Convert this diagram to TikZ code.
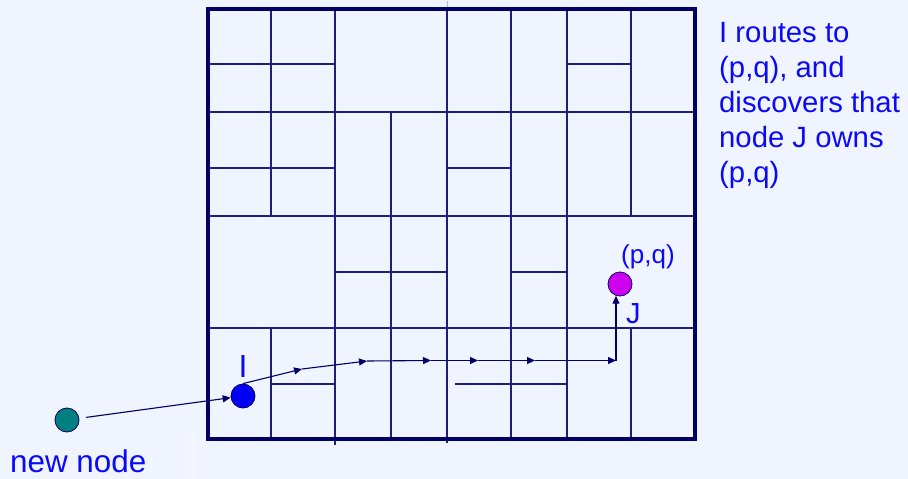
\documentclass[tikz,border=0pt]{standalone}
\usepackage{fontspec}
\setmainfont{Liberation Sans}
\usetikzlibrary{arrows.meta}
\definecolor{bg}{HTML}{F0F4FF}
\definecolor{bgstrip}{HTML}{F3F6FF}
\definecolor{navy}{HTML}{000066}
\definecolor{gridc}{HTML}{1E1E7A}
\definecolor{faint}{HTML}{B8BCD8}
\definecolor{txtblue}{HTML}{0A0AF5}
\definecolor{peerI}{HTML}{0000F5}
\definecolor{peerJ}{HTML}{CC00EE}
\definecolor{peerNew}{HTML}{007F80}
\tikzset{
  gridline/.style={draw=gridc, line width=1.2pt},
  borderline/.style={draw=navy, line width=4pt},
  peer/.style={circle, draw=navy, line width=0.8pt, minimum size=24pt, inner sep=0pt},
  route/.style={draw=navy, line width=1.1pt, -{Triangle[length=8pt,width=7pt]}},
  label/.style={text=txtblue, inner sep=0pt},
}
\begin{document}
\begin{tikzpicture}[x=1pt,y=-1pt]
\fill[bg] (0,0) rectangle (908,479);
\useasboundingbox (0,0) rectangle (908,479);
\fill[bgstrip] (185,433) rectangle (195,479);
% grid: vertical lines
\draw[gridline] (271,8) -- (271,216);
\draw[gridline] (271,328) -- (271,439);
\draw[gridline] (335,8) -- (335,445);
\draw[gridline] (391,112) -- (391,439);
\draw[draw=faint, line width=1pt] (447,1) -- (447,8);
\draw[gridline] (447,8) -- (447,443);
\draw[gridline] (511,8) -- (511,439);
\draw[gridline] (567,8) -- (567,439);
\draw[gridline] (631,8) -- (631,216);
\draw[gridline] (631,328) -- (631,439);
% grid: horizontal lines
\draw[gridline] (207,64) -- (335,64);
\draw[gridline] (567,64) -- (631,64);
\draw[gridline] (207,112) -- (695,112);
\draw[gridline] (207,168) -- (335,168);
\draw[gridline] (447,168) -- (511,168);
\draw[gridline] (207,216) -- (695,216);
\draw[gridline] (335,272) -- (447,272);
\draw[gridline] (511,272) -- (567,272);
\draw[gridline] (207,328) -- (695,328);
\draw[gridline] (271,384) -- (335,384);
\draw[gridline] (455,384) -- (567,384);
% border
\draw[borderline] (208,8.5) rectangle (695,439);
% peers
\node[peer, fill=peerNew] (new) at (67,420) {};
\node[peer, fill=peerI] (I) at (243,396) {};
\node[peer, fill=peerJ] (J) at (620,284) {};
% route waypoints
\coordinate (w1) at (302,369);
\coordinate (w2) at (367,361);
\coordinate (w3) at (431,360.5);
\coordinate (w4) at (478,360.5);
\coordinate (w5) at (535,360.5);
\coordinate (w6) at (616,360.5);
% connectors
\draw[route, shorten <=7pt] (new) -- (I);
\draw[route] (I.north) -- (w1);
\draw[route] (w1) -- (w2);
\draw[route] (w2) -- (w3);
\draw[route] (w3) -- (w4);
\draw[route] (w4) -- (w5);
\draw[route] (w5) -- (w6);
\draw[route] (w6) -- (w6 |- J.250);
% labels
\node[label, anchor=base west, font=\fontsize{31.4}{36}\selectfont] (newlbl) at (10,472) {new node};
\node[label, anchor=base, font=\fontsize{32}{36}\selectfont] (Ilbl) at (243,377) {I};
\node[label, anchor=base west, font=\fontsize{29}{34}\selectfont] (Jlbl) at (626,323) {J};
\node[label, anchor=base west, font=\fontsize{26}{30}\selectfont] (pq) at (621,263) {(p,q)};
\node[label, anchor=base west, align=left, font=\fontsize{29.3}{35}\selectfont] (desc) at (719,182) {I routes to\\(p,q), and\\discovers that\\node J owns\\(p,q)};
\end{tikzpicture}
\end{document}
